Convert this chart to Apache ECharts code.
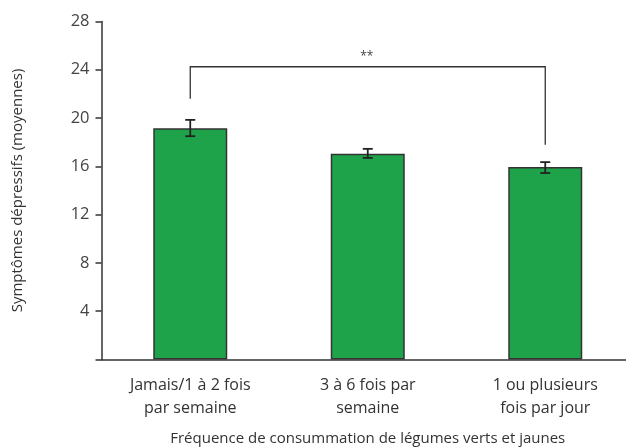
<!DOCTYPE html>
<html><head><meta charset="utf-8">
<script src="https://cdn.jsdelivr.net/npm/echarts@6/dist/echarts.min.js"></script>
<style>html,body{margin:0;padding:0;background:#fff}#c{width:626px;height:448px}</style>
</head><body><div id="c"></div>
<script>
const categories = ['Jamais/1 à 2 fois\npar semaine', '3 à 6 fois par\nsemaine', '1 ou plusieurs\nfois par jour'];
const means = [19.15, 17.05, 15.95];
const errLow = [18.5, 16.7, 15.45];
const errHigh = [19.85, 17.45, 16.35];
const yTicks = [0, 4, 8, 12, 16, 20, 24, 28];
// bracket: from category index, to category index, top y, left foot y, right foot y
const bracket = [[0, 2, 24.25, 21.6, 17.8]];
const sigLabel = '**';

const font = 'Open Sans';
const chart = echarts.init(document.getElementById('c'));
chart.setOption({
  animation: false,
  grid: { left: 101.5, right: -8, top: 21.5, bottom: 88.5, containLabel: false, outerBoundsMode: 'none' },
  xAxis: {
    type: 'category', data: categories,
    axisLine: { lineStyle: { color: '#333', width: 1.5 } },
    axisTick: { show: false },
    axisLabel: { color: '#333', fontFamily: font, fontSize: 16, lineHeight: 23, margin: 14 },
    name: 'Fréquence de consummation de légumes verts et jaunes',
    nameLocation: 'middle', nameGap: 72,
    nameTextStyle: { color: '#333', fontFamily: font, fontSize: 15 }
  },
  yAxis: {
    type: 'value', min: 0, max: 28, interval: 4,
    splitLine: { show: false },
    axisLine: { show: true, lineStyle: { color: '#333', width: 1.5 } },
    axisTick: { show: true, length: 6, lineStyle: { color: '#333', width: 1.5 } },
    axisLabel: { color: '#444', fontFamily: font, fontSize: 16.5, margin: 12,
      formatter: v => (v === 0 ? '' : String(v)) },
    name: 'Symptômes dépressifs (moyennes)', nameLocation: 'middle', nameGap: 76,
    nameTextStyle: { color: '#333', fontFamily: font, fontSize: 15 }
  },
  series: [
    {
      type: 'bar', data: means, barWidth: 74,
      itemStyle: { color: '#1ea34b', borderColor: '#333', borderWidth: 1.5 },
      z: 2
    },
    {
      type: 'custom', z: 5,
      data: categories.map((c, i) => [i, errLow[i], errHigh[i]]),
      renderItem: (params, api) => {
        const lo = api.coord([api.value(0), api.value(1)]);
        const hi = api.coord([api.value(0), api.value(2)]);
        const w = 5;
        const st = { stroke: '#222', lineWidth: 1.8 };
        return { type: 'group', children: [
          { type: 'line', shape: { x1: lo[0], y1: lo[1], x2: hi[0], y2: hi[1] }, style: st },
          { type: 'line', shape: { x1: lo[0] - w, y1: lo[1], x2: lo[0] + w, y2: lo[1] }, style: st },
          { type: 'line', shape: { x1: hi[0] - w, y1: hi[1], x2: hi[0] + w, y2: hi[1] }, style: st }
        ]};
      }
    },
    {
      type: 'custom', z: 5,
      data: bracket,
      renderItem: (params, api) => {
        const a = api.coord([api.value(0), api.value(2)]);
        const b = api.coord([api.value(1), api.value(2)]);
        const aL = api.coord([api.value(0), api.value(3)]);
        const bR = api.coord([api.value(1), api.value(4)]);
        const mid = api.coord([(api.value(0) + api.value(1)) / 2, api.value(2)]);
        return { type: 'group', children: [
          { type: 'polyline', shape: { points: [[aL[0], aL[1]], [a[0], a[1]], [b[0], b[1]], [bR[0], bR[1]]] },
            style: { stroke: '#333', lineWidth: 1.3, fill: null } },
          { type: 'text', x: mid[0] - 1, y: a[1] - 4,
            style: { text: sigLabel, fill: '#444', font: '12px ' + font, textAlign: 'center', textVerticalAlign: 'bottom' } }
        ]};
      }
    }
  ]
});
</script></body></html>
